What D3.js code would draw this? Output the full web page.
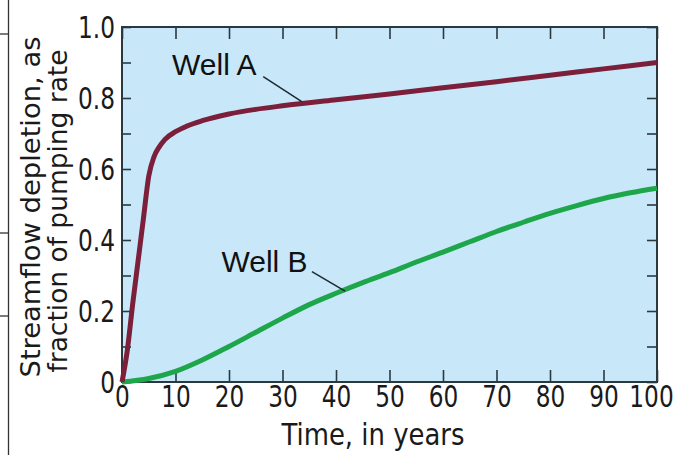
<!DOCTYPE html>
<html>
<head>
<meta charset="utf-8">
<script src="https://cdn.jsdelivr.net/npm/d3@7"></script>
<style>
	body {margin: 0; background: #fff;}
	svg {display: block;}
	.tick-label, .axis text {font-family: "Liberation Sans Narrow", "DejaVu Sans Condensed", "Arial Narrow", sans-serif; font-stretch: condensed;}
	.well-label {font-family: "Liberation Sans", Arial, sans-serif;}
</style>
</head>
<body>
<svg width="683" height="455"></svg>
<script>
// Jahre und Anteil der Abflussminderung
let wellAYears = [0, 1, 2, 3, 4, 5, 6, 7, 8, 10, 12, 15, 20, 25, 30, 40, 50, 60, 70, 80, 90, 100];
let wellAValues = [0, 0.09, 0.22, 0.34, 0.46, 0.58, 0.635, 0.663, 0.683, 0.705, 0.72, 0.736, 0.755, 0.768, 0.778, 0.795, 0.811, 0.829, 0.846, 0.864, 0.882, 0.9];
let wellBYears = [0, 5, 10, 15, 20, 25, 30, 35, 40, 45, 50, 55, 60, 65, 70, 75, 80, 85, 90, 95, 100];
let wellBValues = [0, 0.01, 0.03, 0.062, 0.1, 0.14, 0.18, 0.218, 0.25, 0.28, 0.308, 0.338, 0.366, 0.395, 0.424, 0.45, 0.475, 0.497, 0.517, 0.533, 0.546];
let xTicks = [0, 10, 20, 30, 40, 50, 60, 70, 80, 90, 100];
let yTicks = [0, 0.1, 0.2, 0.3, 0.4, 0.5, 0.6, 0.7, 0.8, 0.9, 1.0];
let yTickLabels = ["0", "", "0.2", "", "0.4", "", "0.6", "", "0.8", "", "1.0"];
let labelNames = ["Well A", "Well B"];
let labelText = [[9.35, 0.865], [18.6, 0.311]];
let labelPointers = [[[26.4, 0.86], [33.6, 0.79]], [[35.5, 0.311], [41.7, 0.256]]];

documentInit();

function documentInit() {
	let svgWidth = 683;
	let svgHeight = 455;
	let svg = d3.select("svg");
	let margin = {top: 27, right: 26, bottom: 73, left: 122};
	let width = svgWidth - margin.left - margin.right;
	let height = svgHeight - margin.top - margin.bottom;
	let axisColor = "#2a3840";

	// Linie vom Nachbarbild am linken Rand
	svg.append("line").attr("x1", 8.5).attr("x2", 8.5).attr("y1", 0).attr("y2", svgHeight)
		.attr("stroke", "#333").attr("stroke-width", 1.3);
	[34, 233, 316].forEach(function(y) {
		svg.append("line").attr("x1", 0).attr("x2", 8.5).attr("y1", y).attr("y2", y)
			.attr("stroke", "#333").attr("stroke-width", 1.3);
	});

	let canvas = svg.append("g").attr("transform", "translate(" + margin.left + "," + margin.top + ")");
	let xscale = d3.scaleLinear().domain([0, 100]).range([0, width]);
	let yscale = d3.scaleLinear().domain([0, 1]).range([height, 0]);

	canvas.append("rect")
		.attr("width", width).attr("height", height)
		.attr("fill", "#c8e8fa");

	let xaxis = d3.axisBottom(xscale).tickValues(xTicks).tickSize(-12).tickPadding(4)
		.tickFormat(d3.format("d"));
	let xaxisTop = d3.axisTop(xscale).tickValues(xTicks).tickSize(-12).tickFormat("");
	let yaxis = d3.axisLeft(yscale).tickValues(yTicks).tickSize(-9).tickPadding(7)
		.tickFormat(function(d, i) {return yTickLabels[i];});
	let yaxisRight = d3.axisRight(yscale).tickValues(yTicks).tickSize(-10).tickFormat("");

	canvas.append("g").attr("class", "axis axis-x").attr("transform", "translate(0," + height + ")").call(xaxis);
	canvas.append("g").attr("class", "axis axis-x-top").call(xaxisTop);
	canvas.append("g").attr("class", "axis axis-y").call(yaxis);
	canvas.append("g").attr("class", "axis axis-y-right").attr("transform", "translate(" + width + ",0)").call(yaxisRight);

	canvas.selectAll(".axis .domain").remove();
	canvas.selectAll(".axis line").attr("stroke", axisColor).attr("stroke-width", 1.6);
	canvas.selectAll(".axis text").attr("fill", "#1a1a1a").attr("font-size", 30);
	canvas.selectAll(".axis-y text").attr("dy", "0.36em");
	// letzte Zahl etwas nach links, wie im Original
	canvas.selectAll(".axis-x text").filter(function(d) {return d === 100;}).attr("dx", -6);
	// schmalere Ziffern wie im Original
	canvas.selectAll(".axis text").each(function() {
		let len = this.getComputedTextLength();
		if (len > 0) {
			d3.select(this).attr("textLength", len * 0.86).attr("lengthAdjust", "spacingAndGlyphs");
		}
	});

	canvas.append("rect")
		.attr("width", width).attr("height", height)
		.attr("fill", "none").attr("stroke", axisColor).attr("stroke-width", 2);

	let line = d3.line()
		.x(function(d) {return xscale(d[0]);})
		.y(function(d) {return yscale(d[1]);})
		.curve(d3.curveMonotoneX);

	let wellB = wellBYears.map(function(d, i) {return [d, wellBValues[i]];});
	let wellA = wellAYears.map(function(d, i) {return [d, wellAValues[i]];});

	canvas.append("path").datum(wellB)
		.attr("fill", "none").attr("stroke", "#1ea64b").attr("stroke-width", 5)
		.attr("d", line);
	canvas.append("path").datum(wellA)
		.attr("fill", "none").attr("stroke", "#7c1f3a").attr("stroke-width", 5)
		.attr("d", line);

	//Beschriftungen der Kurven
	labelNames.forEach(function(name, i) {
		canvas.append("text")
			.attr("class", "well-label")
			.attr("x", xscale(labelText[i][0]))
			.attr("y", yscale(labelText[i][1]))
			.attr("font-size", 30)
			.attr("fill", "#111")
			.text(name);
		canvas.append("line")
			.attr("x1", xscale(labelPointers[i][0][0])).attr("y1", yscale(labelPointers[i][0][1]))
			.attr("x2", xscale(labelPointers[i][1][0])).attr("y2", yscale(labelPointers[i][1][1]))
			.attr("stroke", "#1b2a30").attr("stroke-width", 1.5);
	});

	//Achsenbeschriftung x-Achse
	svg.append("text")
		.attr("class", "tick-label")
		.attr("text-anchor", "middle")
		.attr("x", 373)
		.attr("y", 445)
		.attr("font-size", 30)
		.attr("textLength", 183)
		.attr("lengthAdjust", "spacingAndGlyphs")
		.attr("fill", "#1a1a1a")
		.text("Time, in years");

	//Achsenbeschriftung y-Achse, zwei Zeilen
	svg.append("text")
		.attr("class", "tick-label")
		.attr("text-anchor", "middle")
		.attr("transform", "translate(40,207)rotate(-90)")
		.attr("font-size", 26)
		.attr("textLength", 341)
		.attr("lengthAdjust", "spacingAndGlyphs")
		.attr("fill", "#1a1a1a")
		.text("Streamflow depletion, as");
	svg.append("text")
		.attr("class", "tick-label")
		.attr("text-anchor", "middle")
		.attr("transform", "translate(67,211)rotate(-90)")
		.attr("font-size", 26)
		.attr("textLength", 323)
		.attr("lengthAdjust", "spacingAndGlyphs")
		.attr("fill", "#1a1a1a")
		.text("fraction of pumping rate");
}
</script>
</body>
</html>
